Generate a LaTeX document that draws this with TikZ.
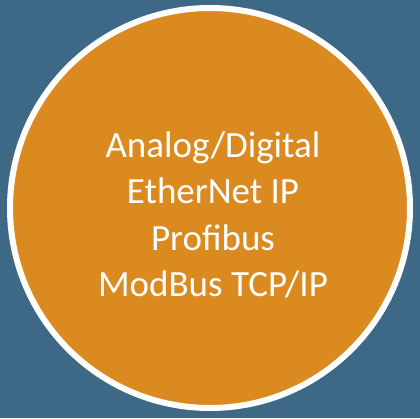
\documentclass[tikz,border=0pt]{standalone}
\usepackage{fontspec}
\setmainfont{Carlito}
\definecolor{slateblue}{RGB}{62,105,134}
\definecolor{busorange}{RGB}{218,138,31}
\tikzset{
    protocols/.style={text=white, align=center, font=\fontsize{37}{46.5}\selectfont}
}

\begin{document}
\begin{tikzpicture}[x=1pt, y=-1pt]

    %% Background
    \fill[slateblue] (0,0) rectangle (420,418);
    \useasboundingbox (0,0) rectangle (420,418);

    % circle
    \draw[white, line width=6pt, fill=busorange] (210,208) circle (200);

    % Labels
    \node[protocols] (list) at (213,215) {Analog/Digital\\EtherNet IP\\Profibus\\ModBus TCP/IP};

\end{tikzpicture}
\end{document}
